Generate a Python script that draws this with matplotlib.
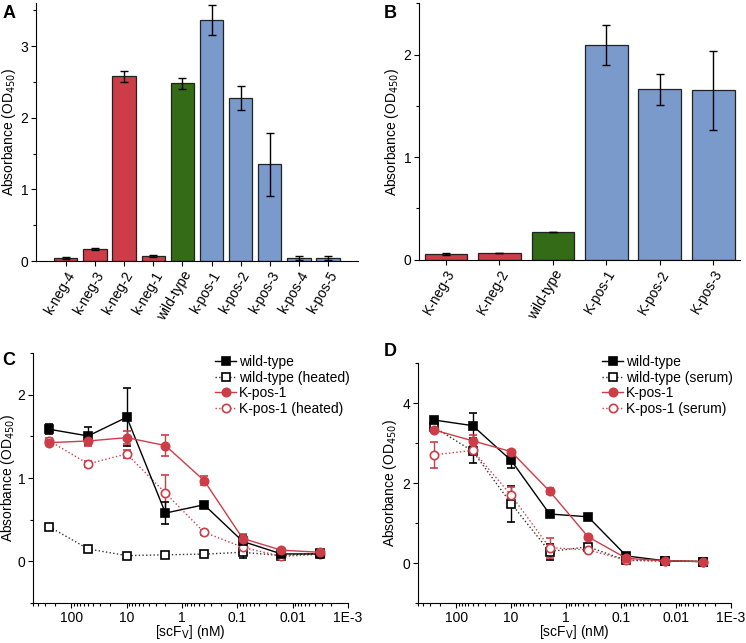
import matplotlib
matplotlib.use("Agg")
import matplotlib.pyplot as plt
import numpy as np
from matplotlib.ticker import FixedLocator, MultipleLocator, LogLocator, NullFormatter
from matplotlib.lines import Line2D

plt.rcParams['font.family'] = ['Liberation Sans', 'DejaVu Sans']
plt.rcParams['font.size'] = 10

RED = '#cc3d47'
GREEN = '#336b17'
BLUE = '#7a9acc'

# panel A
a_names = ['k-neg-4', 'k-neg-3', 'k-neg-2', 'k-neg-1', 'wild-type',
           'k-pos-1', 'k-pos-2', 'k-pos-3', 'k-pos-4', 'k-pos-5']
a_vals = [0.045, 0.17, 2.58, 0.07, 2.48, 3.37, 2.28, 1.35, 0.047, 0.04]
a_err = [0.01, 0.01, 0.08, 0.015, 0.08, 0.21, 0.17, 0.44, 0.03, 0.03]
a_cols = [RED] * 4 + [GREEN] + [BLUE] * 5

# panel B
b_names = ['K-neg-3', 'K-neg-2', 'wild-type', 'K-pos-1', 'K-pos-2', 'K-pos-3']
b_vals = [0.06, 0.07, 0.27, 2.09, 1.66, 1.65]
b_err = [0.01, 0.0, 0.0, 0.195, 0.15, 0.385]
b_cols = [RED, RED, GREEN, BLUE, BLUE, BLUE]

# panels C and D: dilution series
conc = [250, 50, 10, 2, 0.4, 0.08, 0.016, 0.0032]

c_wt = [1.585, 1.505, 1.73, 0.58, 0.68, 0.24, 0.09, 0.09]
c_wt_e = [0.06, 0.11, 0.35, 0.13, 0.03, 0.08, 0.02, 0.02]
c_wth = [0.415, 0.15, 0.07, 0.08, 0.088, 0.11, 0.07, 0.1]
c_wth_e = [0.02, 0.04, 0.02, 0.02, 0.02, 0.07, 0.02, 0.02]
c_kp = [1.425, 1.445, 1.485, 1.39, 0.97, 0.275, 0.135, 0.11]
c_kp_e = [0.03, 0.06, 0.08, 0.13, 0.05, 0.05, 0.02, 0.02]
c_kph = [1.445, 1.17, 1.29, 0.82, 0.35, 0.17, 0.06, 0.085]
c_kph_e = [0.04, 0.04, 0.05, 0.22, 0.03, 0.03, 0.02, 0.02]

d_wt = [3.58, 3.44, 2.57, 1.23, 1.16, 0.18, 0.06, 0.04]
d_wt_e = [0.08, 0.31, 0.2, 0.04, 0.04, 0.03, 0.01, 0.01]
d_wts = [3.4, 2.8, 1.49, 0.29, 0.41, 0.07, 0.05, 0.04]
d_wts_e = [0.1, 0.3, 0.45, 0.2, 0.05, 0.02, 0.01, 0.01]
d_kp = [3.33, 3.06, 2.79, 1.80, 0.66, 0.12, 0.06, 0.04]
d_kp_e = [0.05, 0.15, 0.05, 0.07, 0.04, 0.02, 0.01, 0.01]
d_kps = [2.71, 2.82, 1.70, 0.39, 0.33, 0.08, 0.06, 0.04]
d_kps_e = [0.33, 0.1, 0.2, 0.25, 0.04, 0.02, 0.01, 0.01]

x_ticks = [100, 10, 1, 0.1, 0.01, 0.001]
x_labels = ['100', '10', '1', '0.1', '0.01', '1E-3']

fig = plt.figure(figsize=(7.46, 6.43), dpi=100)


def style(ax):
    for s in ['top', 'right']:
        ax.spines[s].set_visible(False)
    ax.tick_params(direction='out', length=3.5, width=0.8, pad=2)
    ax.tick_params(which='minor', direction='out', length=2, width=0.8)


def bar_panel(ax, names, vals, errs, cols, ymax, pad):
    x = np.arange(len(names))
    ax.bar(x, vals, 0.8, color=cols, edgecolor='#222222', linewidth=0.9,
           yerr=errs, error_kw=dict(ecolor='black', elinewidth=1, capsize=3, capthick=1))
    ax.set_xlim(-pad, len(names) - 1 + pad)
    ax.set_ylim(0, ymax)
    ax.set_xticks(x)
    ax.set_xticklabels(names, rotation=60, ha='right', rotation_mode='anchor')
    ax.yaxis.set_major_locator(MultipleLocator(1))
    ax.yaxis.set_minor_locator(MultipleLocator(0.5))
    ax.set_ylabel('Absorbance (OD$_{450}$)', labelpad=2)
    style(ax)


axA = fig.add_axes([0.048, 0.594, 0.432, 0.401])
bar_panel(axA, a_names, a_vals, a_err, a_cols, 3.6, 1.03)
fig.text(0.003, 0.993, 'A', fontsize=13, fontweight='bold', va='top')

axB = fig.add_axes([0.562, 0.596, 0.430, 0.399])
bar_panel(axB, b_names, b_vals, b_err, b_cols, 2.5, 0.5)
fig.text(0.515, 0.993, 'B', fontsize=13, fontweight='bold', va='top')


def curve_panel(ax, series, labels, ylim, yticks, ymin_step, ypad):
    styles = [
        dict(color='black', marker='s', mfc='black', ls='-', mec='black'),
        dict(color='#333333', marker='s', mfc='white', ls=':', mec='black'),
        dict(color=RED, marker='o', mfc=RED, ls='-', mec=RED),
        dict(color=RED, marker='o', mfc='white', ls=':', mec=RED),
    ]
    ecols = ['black', 'black', RED, RED]
    for i in [1, 3, 0, 2]:
        y, e = series[i]
        ax.errorbar(conc, y, yerr=e, ms=6, lw=1, elinewidth=1, capsize=3,
                    capthick=1, ecolor=ecols[i], mew=1.2, **styles[i])
    ax.set_xscale('log')
    ax.set_xlim(500, 0.001)
    ax.set_ylim(*ylim)
    ax.xaxis.set_major_locator(FixedLocator(x_ticks))
    ax.set_xticklabels(x_labels)
    ax.xaxis.set_minor_locator(LogLocator(base=10, subs=np.arange(2, 10)))
    ax.xaxis.set_minor_formatter(NullFormatter())
    ax.set_yticks(yticks)
    ax.yaxis.set_minor_locator(MultipleLocator(ymin_step))
    ax.set_ylabel('Absorbance (OD$_{450}$)', labelpad=ypad)
    ax.set_xlabel('[scF$_{\\mathrm{V}}$] (nM)', labelpad=-1)
    style(ax)
    leg_h = [Line2D([], [], ms=6, lw=1, mew=1.2, **styles[i]) for i in range(4)]
    bb = ax.get_position()
    ax.legend(leg_h, labels, loc='upper right',
              bbox_to_anchor=(bb.x1 + 0.002, 0.448), bbox_transform=fig.transFigure,
              frameon=False, fontsize=10, handlelength=1.5, handletextpad=0.2,
              labelspacing=0.12, borderaxespad=0, borderpad=0)


axC = fig.add_axes([0.044, 0.062, 0.4225, 0.389])
curve_panel(axC, [(c_wt, c_wt_e), (c_wth, c_wth_e), (c_kp, c_kp_e), (c_kph, c_kph_e)],
            ['wild-type', 'wild-type (heated)', 'K-pos-1', 'K-pos-1 (heated)'],
            (-0.5, 2.5), [0, 1, 2], 0.5, 0)
fig.text(0.003, 0.452, 'C', fontsize=13, fontweight='bold', va='top')

axD = fig.add_axes([0.560, 0.062, 0.420, 0.373])
curve_panel(axD, [(d_wt, d_wt_e), (d_wts, d_wts_e), (d_kp, d_kp_e), (d_kps, d_kps_e)],
            ['wild-type', 'wild-type (serum)', 'K-pos-1', 'K-pos-1 (serum)'],
            (-1, 5), [0, 2, 4], 1, 2)
fig.text(0.515, 0.466, 'D', fontsize=13, fontweight='bold', va='top')

fig.savefig('out.png', dpi=100)
